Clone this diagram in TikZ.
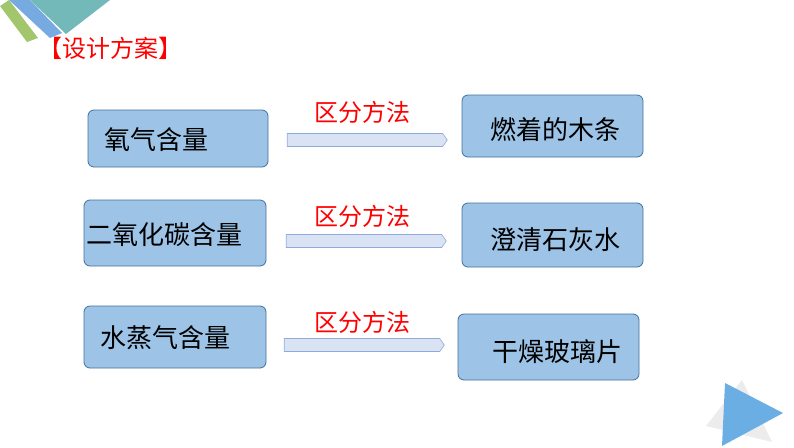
\documentclass[tikz,border=0pt]{standalone}
\usepackage{fontspec}
\newfontfamily\cjk{Noto Sans CJK SC}
\usetikzlibrary{shapes.arrows,calc}
\definecolor{boxfill}{HTML}{9DC3E6}
\definecolor{boxline}{HTML}{41719C}
\definecolor{arrfill}{HTML}{DAE3F3}
\definecolor{arrline}{HTML}{8FAADC}
\begin{document}
\begin{tikzpicture}[
            x = 1pt, y = -1pt,
            box/.style = {draw=boxline, fill=boxfill, rounded corners=6pt, line width=0.8pt},
            txt/.style = {font=\cjk\fontsize{26}{26}\selectfont, anchor=west, inner sep=0pt},
            lbl/.style = {font=\cjk\fontsize{24}{24}\selectfont, text=red, inner sep=0pt},
            fatarrow/.style = {single arrow, draw=arrline, fill=arrfill, line width=0.6pt,
                minimum width=13pt, single arrow head extend=0pt, single arrow tip angle=110,
                minimum height=160pt, inner sep=0pt}
        ]
	\useasboundingbox (0,0) rectangle (794,447);
	% corner decoration
	\fill[yellow!50!green!80!black!70] (0,6) -- (9,0) -- (38,38) -- (27,42) -- cycle;
	\fill[cyan!60!blue!55] (9,0) -- (30,0) -- (62,33) -- (50,38) -- cycle;
	\fill[teal!55] (30,0) -- (110,0) -- (66,34) -- cycle;
	\fill[gray!15] (742,380) -- (772,442) -- (706,426) -- cycle;
	\fill[cyan!70!blue!60] (725,383) -- (783,413) -- (722,446) -- cycle;

	\node[font=\cjk\fontsize{24}{24}\selectfont, text=red, anchor=west, inner sep=0pt] (title) at (38,48) {【设计方案】};

	% left boxes
	\draw[box] (88,110) rectangle (268,167);  \coordinate (L1) at (268,140);
	\draw[box] (84,200) rectangle (266,266);  \coordinate (L2) at (266,241);
	\draw[box] (84,306) rectangle (266,368);  \coordinate (L3) at (266,345);
	\node[txt] (o2) at (104,140) {氧气含量};
	\node[txt] (co2) at (86,235) {二氧化碳含量};
	\node[txt] (h2o) at (100,338) {水蒸气含量};

	% right boxes
	\draw[box] (462,95) rectangle (643,157);  \coordinate (R1) at (462,140);
	\draw[box] (462,203) rectangle (643,267); \coordinate (R2) at (462,241);
	\draw[box] (458,314) rectangle (639,380); \coordinate (R3) at (458,345);
	\node[txt] (wood) at (490,130) {燃着的木条};
	\node[txt] (lime) at (490,240) {澄清石灰水};
	\node[txt] (glass) at (492,352) {干燥玻璃片};

	% arrows
	\foreach \i/\y in {1/112,2/216,3/322} {
		\node[fatarrow] (a\i) at ($(L\i)!0.5!(R\i)$) {};
		\node[lbl] (m\i) at (362,\y) {区分方法};
	}
\end{tikzpicture}
\end{document}
